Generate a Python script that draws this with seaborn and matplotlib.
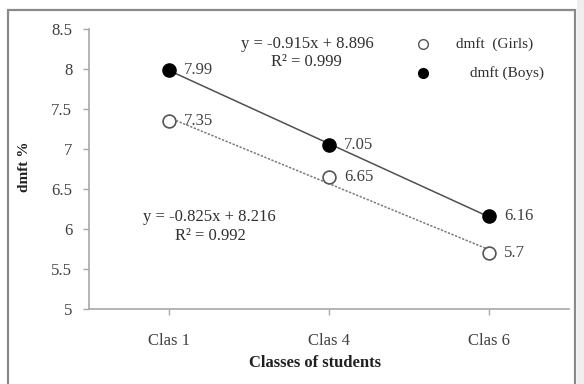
import numpy as np
import pandas as pd
import matplotlib
matplotlib.use("Agg")
import matplotlib.pyplot as plt
from matplotlib.patches import Rectangle
from matplotlib.lines import Line2D
import seaborn as sns

# dmft values per class
classes = ["Clas 1", "Clas 4", "Clas 6"]
girls = [7.35, 6.65, 5.7]
boys = [7.99, 7.05, 6.16]
y_ticks = [5, 5.5, 6, 6.5, 7, 7.5, 8, 8.5]
y_tick_labels = ["5", "5.5", "6", "6.5", "7", "7.5", "8", "8.5"]

sns.set_theme(style="white")
plt.rcParams["font.family"] = ["Liberation Serif", "DejaVu Serif"]
plt.rcParams["mathtext.fontset"] = "stix"

W, H = 584, 384
fig = plt.figure(figsize=(W / 100, H / 100), dpi=100, facecolor="white")


def fx(px):
    return px / W


def fy(py):
    return 1 - py / H


# outer frame of the figure
fig.patches.append(Rectangle((fx(577), 0), 1 - fx(577), 1, transform=fig.transFigure,
                             facecolor="#eeeeee", edgecolor="none", zorder=0))
fig.patches.append(Rectangle((fx(8), fy(400)), fx(575) - fx(8), fy(10) - fy(400),
                             transform=fig.transFigure, facecolor="none",
                             edgecolor="#8a8a8a", linewidth=1.6, zorder=1))

ax = fig.add_axes([fx(89), fy(309), fx(569) - fx(89), fy(29) - fy(309)])
ax.set_facecolor("none")

pos = np.arange(len(classes)) + 0.5
df = pd.DataFrame({"pos": pos, "girls": girls, "boys": boys})

# linear trend lines
sns.regplot(data=df, x="pos", y="boys", ax=ax, ci=None, truncate=True, scatter=False,
            line_kws=dict(color="#505050", lw=1.1, zorder=2))
sns.regplot(data=df, x="pos", y="girls", ax=ax, ci=None, truncate=True, scatter=False,
            line_kws=dict(color="#7a7a7a", lw=1.1, ls=(0, (1.5, 1)), zorder=2))

# measured points
sns.scatterplot(data=df, x="pos", y="boys", ax=ax, s=90, color="black",
                edgecolor="black", linewidth=1, zorder=4)
sns.scatterplot(data=df, x="pos", y="girls", ax=ax, s=85, facecolor="white",
                edgecolor="#555555", linewidth=1.2, zorder=4)

# value labels
for xp, v in zip(pos, boys):
    ax.annotate(f"{v:g}", (xp, v), xytext=(11, 0), textcoords="offset points",
                ha="left", va="center", fontsize=12, color="#404040", zorder=5)
for xp, v in zip(pos, girls):
    ax.annotate(f"{v:g}", (xp, v), xytext=(11, 0), textcoords="offset points",
                ha="left", va="center", fontsize=12, color="#404040", zorder=5)

ax.set_xlim(0, 3)
ax.set_ylim(5, 8.5)
ax.set_xticks(pos)
ax.set_xticklabels(classes)
ax.set_yticks(y_ticks)
ax.set_yticklabels(y_tick_labels)
ax.set_xlabel("")
ax.set_ylabel("")

for side in ["top", "right"]:
    ax.spines[side].set_visible(False)
for side in ["left", "bottom"]:
    ax.spines[side].set_color("#a8a8a8")
    ax.spines[side].set_linewidth(1.2)
ax.tick_params(axis="y", which="both", left=True, length=4, width=1, color="#a8a8a8",
               labelsize=12, labelcolor="#404040", pad=8)
ax.tick_params(axis="x", which="both", bottom=True, length=4, width=1, color="#a8a8a8",
               labelsize=12, labelcolor="#404040", pad=13)

# axis titles
fig.text(fx(315), fy(363), "Classes of students", ha="center", va="center",
         fontsize=12, fontweight="bold", color="#202020")
fig.text(fx(25), fy(167), "dmft %", ha="center", va="center", rotation=90,
         fontsize=11, fontweight="bold", color="#202020")

# regression equations
fig.text(fx(307), fy(44), "y = -0.915x + 8.896", ha="center", va="center",
         fontsize=12, color="#303030")
fig.text(fx(306), fy(62), "R² = 0.999", ha="center", va="center",
         fontsize=12, color="#303030")
fig.text(fx(209), fy(217), "y = -0.825x + 8.216", ha="center", va="center",
         fontsize=12, color="#303030")
fig.text(fx(210), fy(236), "R² = 0.992", ha="center", va="center",
         fontsize=12, color="#303030")

# legend entries
fig.add_artist(Line2D([fx(423)], [fy(44)], marker="o", ms=7, mfc="white",
                      mec="#555555", mew=1, ls="none", transform=fig.transFigure))
fig.add_artist(Line2D([fx(423)], [fy(73)], marker="o", ms=7, mfc="black",
                      mec="black", mew=1, ls="none", transform=fig.transFigure))
fig.text(fx(456), fy(44), "dmft  (Girls)", ha="left", va="center",
         fontsize=11, color="#303030")
fig.text(fx(470), fy(73), "dmft (Boys)", ha="left", va="center",
         fontsize=11, color="#303030")

fig.savefig("out.png", dpi=100, facecolor="white")
